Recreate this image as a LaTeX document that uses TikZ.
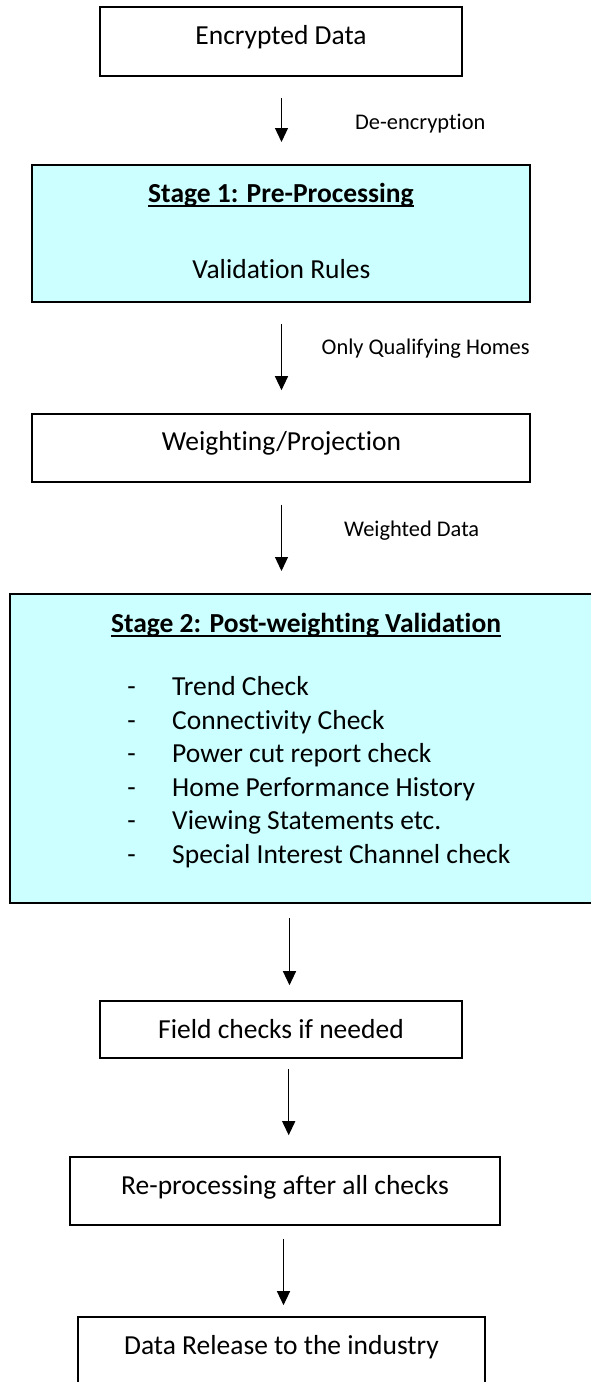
\documentclass[tikz,border=0pt]{standalone}
\usepackage{fontspec}
\setmainfont{Carlito}[Ligatures={NoCommon,NoRequired,NoContextual}]
\usetikzlibrary{arrows.meta}
\definecolor{stagefill}{HTML}{CCFFFF}
\tikzset{
  box/.style={draw=black, line width=1.6pt, rectangle, inner sep=0pt},
  stagebox/.style={box, line width=2pt, fill=stagefill},
  txt/.style={inner sep=0pt, anchor=base, font=\fontsize{27.5}{33}\selectfont},
  ttl/.style={inner sep=0pt, anchor=base, font=\fontsize{27.5}{33}\selectfont\bfseries},
  lbl/.style={inner sep=0pt, anchor=base west, font=\fontsize{22.4}{27}\selectfont},
  uline/.style={line width=2pt},
  flow/.style={-{Triangle[length=14pt,width=13pt]}, line width=1.2pt},
}
\begin{document}
\begin{tikzpicture}[x=1pt, y=-1pt]
\useasboundingbox (0,0) rectangle (591,1382);
\clip (0,0) rectangle (591,1382);

% process boxes
\node[box, minimum width=362pt, minimum height=69pt] (enc) at (281,41.5) {};
\node[stagebox, minimum width=498pt, minimum height=137pt] (st1) at (281,233.5) {};
\node[box, minimum width=498pt, minimum height=68pt] (wgt) at (281,448) {};
\node[stagebox, minimum width=592pt, minimum height=309pt] (st2) at (306,748.5) {};
\node[box, minimum width=362pt, minimum height=57pt] (fld) at (281,1029.5) {};
\node[box, minimum width=430pt, minimum height=68pt] (rep) at (285,1191) {};
\node[box, minimum width=407pt, minimum height=78pt] (rel) at (281.5,1356) {};

% box texts
\node[txt] (encT) at (281,44) {Encrypted Data};
\node[ttl] (st1T) at (281,202) {Stage 1: Pre-Processing};
\draw[uline] ([yshift=-3.5pt]st1T.base west) -- ([yshift=-3.5pt]st1T.base east);
\node[txt] (st1R) at (281.5,278) {Validation Rules};
\node[txt] (wgtT) at (281.5,450) {Weighting/Projection};
\node[ttl] (st2T) at (306,632) {Stage 2: Post-weighting Validation};
\draw[uline] ([yshift=-3.5pt]st2T.base west) -- ([yshift=-3.5pt]st2T.base east);

\foreach \b/\item [count=\i] in {695/Trend Check, 729/Connectivity Check,
    762/Power cut report check, 796/Home Performance History,
    829/Viewing Statements etc., 863/Special Interest Channel check} {
  \node[txt] (dash\i) at (131.5,\b) {-};
  \node[txt, anchor=base west] (item\i) at (172,\b) {\item};
}

\node[txt] (fldT) at (281,1038) {Field checks if needed};
\node[txt] (repT) at (285,1194) {Re-processing after all checks};
\node[txt] (relT) at (281.5,1354) {Data Release to the industry};

% connectors
\draw[flow, shorten <=21pt, shorten >=22pt] (enc.south -| 281.5,0) -- (st1.north -| 281.5,0);
\draw[flow, shorten <=21pt, shorten >=23pt] (st1.south -| 281.5,0) -- (wgt.north -| 281.5,0);
\draw[flow, shorten <=22pt, shorten >=22pt] (wgt.south -| 281.5,0) -- (st2.north -| 281.5,0);
\draw[flow, shorten <=14pt, shorten >=15pt] (st2.south -| 289.5,0) -- (fld.north -| 289.5,0);
\draw[flow, shorten <=10pt, shorten >=21pt] (fld.south -| 288.7,0) -- (rep.north -| 288.7,0);
\draw[flow, shorten <=13pt, shorten >=11pt] (rep.south -| 283.5,0) -- (rel.north -| 283.5,0);

% connector labels
\node[lbl] (l1) at (355,129) {De-encryption};
\node[lbl] (l2) at (321.5,354) {Only Qualifying Homes};
\node[lbl] (l3) at (344,536) {Weighted Data};
\end{tikzpicture}
\end{document}
